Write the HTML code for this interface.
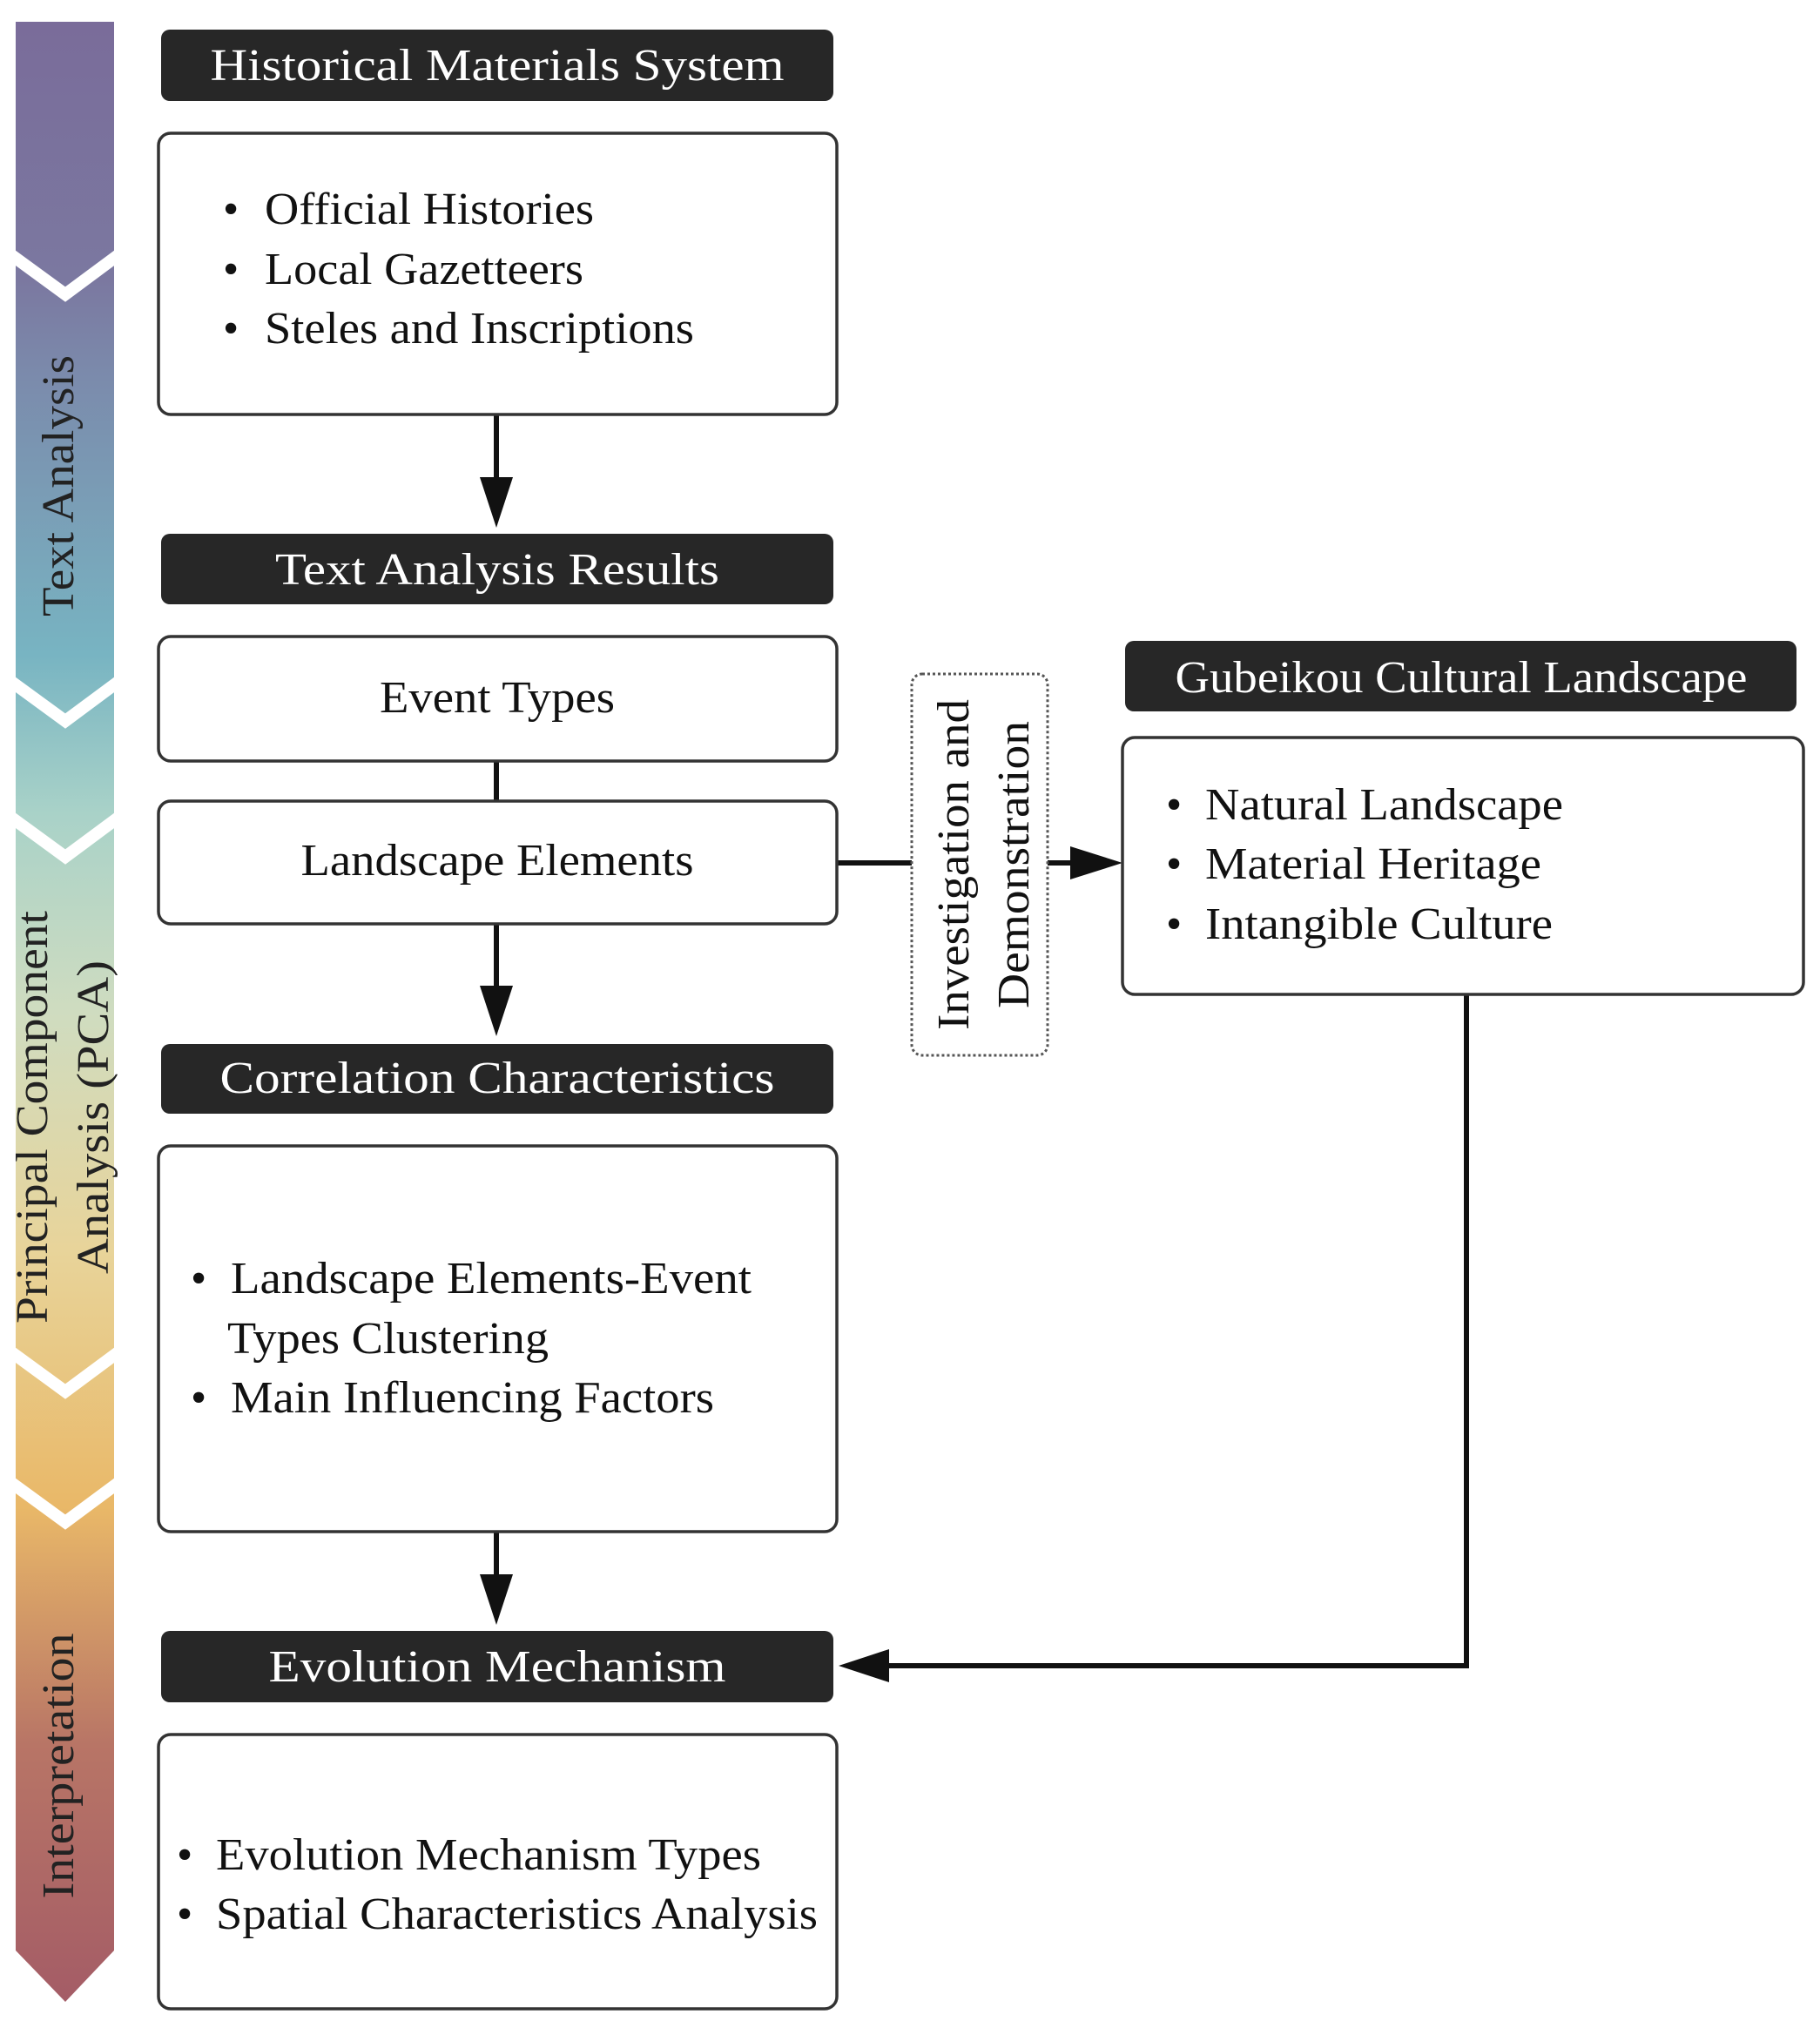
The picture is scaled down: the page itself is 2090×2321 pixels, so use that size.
<!DOCTYPE html>
<html><head><meta charset="utf-8"><style>html,body{margin:0;padding:0;background:#fff}svg{display:block}</style></head>
<body>
<svg width="2090" height="2321" viewBox="0 0 2090 2321" xmlns="http://www.w3.org/2000/svg" font-family="'Liberation Serif', serif">
<defs>
<linearGradient id="g" x1="0" y1="0" x2="0" y2="1">
<stop offset="0" stop-color="#7a6c9a"/>
<stop offset="0.13" stop-color="#7b78a0"/>
<stop offset="0.18" stop-color="#7b8bac"/>
<stop offset="0.32" stop-color="#78b4c2"/>
<stop offset="0.40" stop-color="#a9d2c8"/>
<stop offset="0.50" stop-color="#cfdcc0"/>
<stop offset="0.62" stop-color="#e8d49a"/>
<stop offset="0.75" stop-color="#e9b868"/>
<stop offset="0.87" stop-color="#b87566"/>
<stop offset="1" stop-color="#a45c66"/>
</linearGradient>
</defs>
<polygon points="18,25 131,25 131,2240 75,2299 18,2240" fill="url(#g)"/>
<g fill="none" stroke="#fff" stroke-width="14" stroke-linejoin="miter">
<polyline points="12,292 75,338 137,292"/>
<polyline points="12,782 75,828 137,782"/>
<polyline points="12,938 75,984 137,938"/>
<polyline points="12,1552 75,1598 137,1552"/>
<polyline points="12,1702 75,1748 137,1702"/>
</g>
<g fill="#222" font-size="52">
<text transform="translate(84,558) rotate(-90)" text-anchor="middle" textLength="300" lengthAdjust="spacingAndGlyphs">Text Analysis</text>
<text transform="translate(54,1283) rotate(-90)" text-anchor="middle" textLength="474" lengthAdjust="spacingAndGlyphs">Principal Component</text>
<text transform="translate(124,1283) rotate(-90)" text-anchor="middle" textLength="360" lengthAdjust="spacingAndGlyphs">Analysis (PCA)</text>
<text transform="translate(84,2028) rotate(-90)" text-anchor="middle" textLength="305" lengthAdjust="spacingAndGlyphs">Interpretation</text>
</g>
<g stroke="#111" stroke-width="6" fill="none">
<line x1="570" y1="476" x2="570" y2="560"/>
<line x1="570" y1="874" x2="570" y2="920"/>
<line x1="570" y1="1061" x2="570" y2="1145"/>
<line x1="570" y1="1759" x2="570" y2="1820"/>
<line x1="961" y1="991" x2="1047" y2="991"/>
<line x1="1203" y1="991" x2="1240" y2="991"/>
<polyline points="1684,1142 1684,1913 1010,1913"/>
</g>
<g fill="#111">
<polygon points="551,548 589,548 570,606"/>
<polygon points="551,1132 589,1132 570,1190"/>
<polygon points="551,1808 589,1808 570,1866"/>
<polygon points="1229,972 1229,1010 1289,991"/>
<polygon points="1021,1894 1021,1932 963,1913"/>
</g>
<g fill="#272727">
<rect x="185" y="34" width="772" height="82" rx="10"/>
<rect x="185" y="613" width="772" height="81" rx="10"/>
<rect x="185" y="1199" width="772" height="80" rx="10"/>
<rect x="185" y="1873" width="772" height="82" rx="10"/>
<rect x="1292" y="736" width="771" height="81" rx="10"/>
</g>
<g fill="#fff" font-size="52">
<text x="571" y="92" text-anchor="middle" textLength="659" lengthAdjust="spacingAndGlyphs">Historical Materials System</text>
<text x="571" y="671" text-anchor="middle" textLength="510" lengthAdjust="spacingAndGlyphs">Text Analysis Results</text>
<text x="571" y="1255" text-anchor="middle" textLength="637" lengthAdjust="spacingAndGlyphs">Correlation Characteristics</text>
<text x="571" y="1931" text-anchor="middle" textLength="525" lengthAdjust="spacingAndGlyphs">Evolution Mechanism</text>
<text x="1678" y="795" text-anchor="middle" textLength="657" lengthAdjust="spacingAndGlyphs">Gubeikou Cultural Landscape</text>
</g>
<g fill="#fff" stroke="#333" stroke-width="3.5">
<rect x="182" y="153" width="779" height="323" rx="14"/>
<rect x="182" y="731" width="779" height="143" rx="14"/>
<rect x="182" y="920" width="779" height="141" rx="14"/>
<rect x="182" y="1316" width="779" height="443" rx="14"/>
<rect x="182" y="1992" width="779" height="315" rx="14"/>
<rect x="1289" y="847" width="782" height="295" rx="14"/>
</g>
<rect x="1047" y="774" width="156" height="438" rx="12" fill="#fff" stroke="#555" stroke-width="3" stroke-dasharray="3,3"/>
<g fill="#111" font-size="52">
<text transform="translate(1112,993) rotate(-90)" text-anchor="middle" textLength="380" lengthAdjust="spacingAndGlyphs">Investigation and</text>
<text transform="translate(1181,993) rotate(-90)" text-anchor="middle" textLength="330" lengthAdjust="spacingAndGlyphs">Demonstration</text>
<text x="571" y="818" text-anchor="middle" textLength="270" lengthAdjust="spacingAndGlyphs">Event Types</text>
<text x="571" y="1005" text-anchor="middle" textLength="451" lengthAdjust="spacingAndGlyphs">Landscape Elements</text>
<text x="256" y="257">•</text><text x="304" y="257" textLength="378" lengthAdjust="spacingAndGlyphs">Official Histories</text>
<text x="256" y="326">•</text><text x="304" y="326" textLength="366" lengthAdjust="spacingAndGlyphs">Local Gazetteers</text>
<text x="256" y="394">•</text><text x="304" y="394" textLength="493" lengthAdjust="spacingAndGlyphs">Steles and Inscriptions</text>
<text x="219" y="1485">•</text><text x="265" y="1485" textLength="598" lengthAdjust="spacingAndGlyphs">Landscape Elements-Event</text>
<text x="261" y="1554" textLength="369" lengthAdjust="spacingAndGlyphs">Types Clustering</text>
<text x="219" y="1622">•</text><text x="265" y="1622" textLength="555" lengthAdjust="spacingAndGlyphs">Main Influencing Factors</text>
<text x="203" y="2147">•</text><text x="248" y="2147" textLength="626" lengthAdjust="spacingAndGlyphs">Evolution Mechanism Types</text>
<text x="203" y="2215">•</text><text x="248" y="2215" textLength="691" lengthAdjust="spacingAndGlyphs">Spatial Characteristics Analysis</text>
<text x="1339" y="941">•</text><text x="1384" y="941" textLength="411" lengthAdjust="spacingAndGlyphs">Natural Landscape</text>
<text x="1339" y="1009">•</text><text x="1384" y="1009" textLength="386" lengthAdjust="spacingAndGlyphs">Material Heritage</text>
<text x="1339" y="1078">•</text><text x="1384" y="1078" textLength="399" lengthAdjust="spacingAndGlyphs">Intangible Culture</text>
</g>
</svg>
</body></html>
